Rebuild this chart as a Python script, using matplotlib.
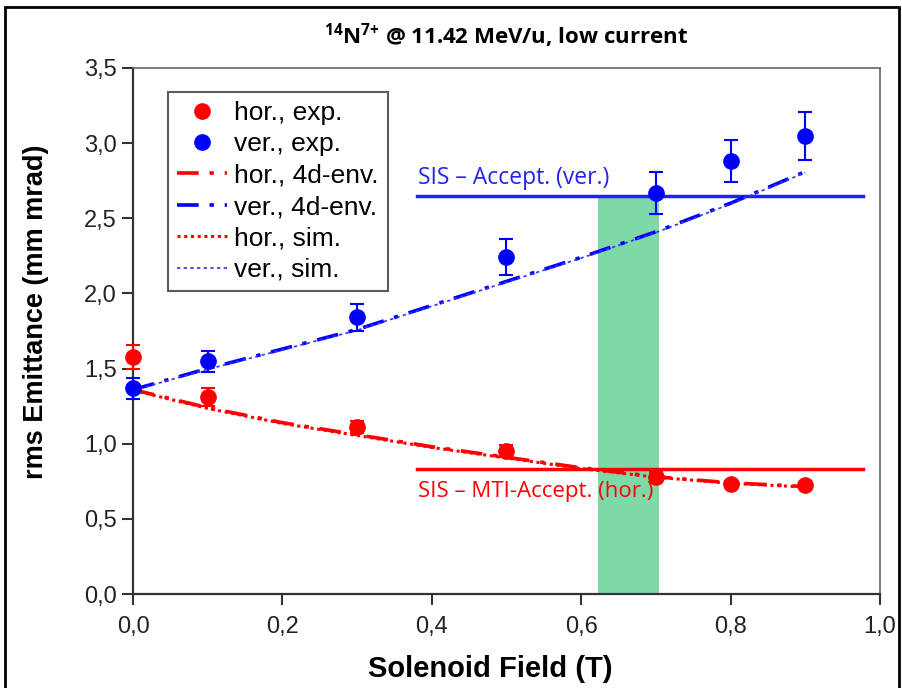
import matplotlib
matplotlib.use('Agg')
import matplotlib.pyplot as plt
from matplotlib.lines import Line2D
from matplotlib.patches import Rectangle

plt.rcParams['font.family'] = ['Liberation Sans Narrow', 'Liberation Sans', 'DejaVu Sans']
plt.rcParams['mathtext.fontset'] = 'custom'
plt.rcParams['mathtext.bf'] = 'Open Sans:bold'
plt.rcParams['mathtext.rm'] = 'Open Sans'

# measured emittances
field_exp = [0.0, 0.1, 0.3, 0.5, 0.7, 0.8, 0.9]
hor_exp = [1.58, 1.31, 1.11, 0.95, 0.78, 0.73, 0.725]
hor_err = [0.08, 0.06, 0.04, 0.04, 0.03, 0.02, 0.02]
ver_exp = [1.37, 1.55, 1.84, 2.24, 2.67, 2.88, 3.05]
ver_err = [0.07, 0.07, 0.09, 0.12, 0.14, 0.14, 0.16]

# model curves
field_calc = [0.0, 0.1, 0.2, 0.3, 0.4, 0.5, 0.6, 0.7, 0.8, 0.9]
hor_env = [1.36, 1.24, 1.14, 1.06, 0.98, 0.91, 0.84, 0.78, 0.74, 0.715]
ver_env = [1.36, 1.50, 1.63, 1.76, 1.92, 2.08, 2.24, 2.41, 2.60, 2.81]
hor_sim = [1.355, 1.235, 1.135, 1.055, 0.975, 0.905, 0.835, 0.777, 0.737, 0.712]
ver_sim = [1.355, 1.495, 1.625, 1.755, 1.915, 2.075, 2.235, 2.405, 2.595, 2.805]

# SIS acceptance limits
accept_ver = 2.65
accept_hor = 0.83
accept_x = [0.38, 0.977]
window = [0.622, 0.704]

fig = plt.figure(figsize=(9.03, 6.88), dpi=100)
ax = fig.add_axes([0.1473, 0.1366, 0.8272, 0.7646])

ax.axvspan(window[0], window[1], ymin=0, ymax=accept_ver / 3.5,
           color='#7fd8a8', lw=0, zorder=1)

env_dash = (6, 3, 1.2, 3)
ax.plot(field_calc, hor_env, color='#ff0000', lw=2.6, dashes=env_dash, zorder=3)
ax.plot(field_calc, ver_env, color='#0000ff', lw=2.6, dashes=env_dash, zorder=3)
ax.plot(field_calc, hor_sim, color='#ff0000', lw=2.2, ls=(0, (1, 1.2)), zorder=3)
ax.plot(field_calc, ver_sim, color='#3333ff', lw=1.2, ls=(0, (2, 2)), zorder=3)

for y, err, c in [(hor_exp, hor_err, '#ff0000'), (ver_exp, ver_err, '#0000ff')]:
    eb = ax.errorbar(field_exp, y, yerr=err, fmt='o', color=c, ms=11,
                     capsize=5, elinewidth=1.5, capthick=1.5, zorder=4)
    for art in eb.lines[0:1] + eb.lines[1] + eb.lines[2]:
        art.set_clip_on(False)

ax.plot(accept_x, [accept_ver, accept_ver], color='#2222ee', lw=2.5, zorder=2)
ax.plot(accept_x, [accept_hor, accept_hor], color='#ff0000', lw=2.5, zorder=2)
ax.text(0.382, accept_ver + 0.04, 'SIS – Accept. (ver.)', color='#2222ee',
        fontsize=16.5, family='Open Sans', va='bottom')
ax.text(0.382, accept_hor - 0.08, 'SIS – MTI-Accept. (hor.)', color='#ff0000',
        fontsize=16, family='Open Sans', va='top')

ax.set_xlim(0, 1.0)
ax.set_ylim(0, 3.5)
ax.set_xticks([0.0, 0.2, 0.4, 0.6, 0.8, 1.0])
ax.set_yticks([0.0, 0.5, 1.0, 1.5, 2.0, 2.5, 3.0, 3.5])
ax.set_xticklabels(['0,0', '0,2', '0,4', '0,6', '0,8', '1,0'])
ax.set_yticklabels(['0,0', '0,5', '1,0', '1,5', '2,0', '2,5', '3,0', '3,5'])
ax.tick_params(labelsize=17, length=8, width=1.5, color='#333333',
               labelcolor='#222222')
ax.tick_params(axis='x', pad=8)
for side in ['left', 'bottom']:
    ax.spines[side].set_linewidth(1.6)
    ax.spines[side].set_color('#333333')
for side in ['top', 'right']:
    ax.spines[side].set_linewidth(1.2)
    ax.spines[side].set_color('#666666')

ax.set_xlabel('Solenoid Field (T)', fontsize=21, fontweight='bold')
ax.xaxis.set_label_coords(0.478, -0.115)
ax.set_ylabel('rms Emittance (mm mrad)', fontsize=19.5, fontweight='bold')
ax.yaxis.set_label_coords(-0.113, 0.536)
fig.text(0.561, 0.948, r'$\mathbf{^{14}N^{7{+}}}$ @ 11.42 MeV/u, low current',
         ha='center', va='center', fontsize=16, fontweight='bold',
         family='Open Sans')

# legend with plain markers for the measured points
handles = [
    Line2D([], [], ls='none', marker='o', ms=11, color='#ff0000'),
    Line2D([], [], ls='none', marker='o', ms=11, color='#0000ff'),
    Line2D([], [], color='#ff0000', lw=2.6, dashes=env_dash),
    Line2D([], [], color='#0000ff', lw=2.6, dashes=env_dash),
    Line2D([], [], color='#ff0000', lw=2.2, ls=(0, (1, 1.2))),
    Line2D([], [], color='#3333ff', lw=1.2, ls=(0, (2, 2))),
]
labels = ['hor., exp.', 'ver., exp.', 'hor., 4d-env.', 'ver., 4d-env.',
          'hor., sim.', 'ver., sim.']
leg = ax.legend(handles, labels, loc='upper left',
                bbox_to_anchor=(0.047, 0.955), fontsize=19, frameon=True,
                fancybox=False, edgecolor='#333333', handlelength=1.9,
                handletextpad=0.25, borderpad=0.35, labelspacing=0.28,
                borderaxespad=0)
leg.get_frame().set_linewidth(1.5)

fig.patches.append(Rectangle((5 / 903, -0.01), 894 / 903, 1 - 7 / 688 + 0.01,
                             transform=fig.transFigure, fill=False,
                             ec='black', lw=2))

fig.savefig('out.png', dpi=100)
